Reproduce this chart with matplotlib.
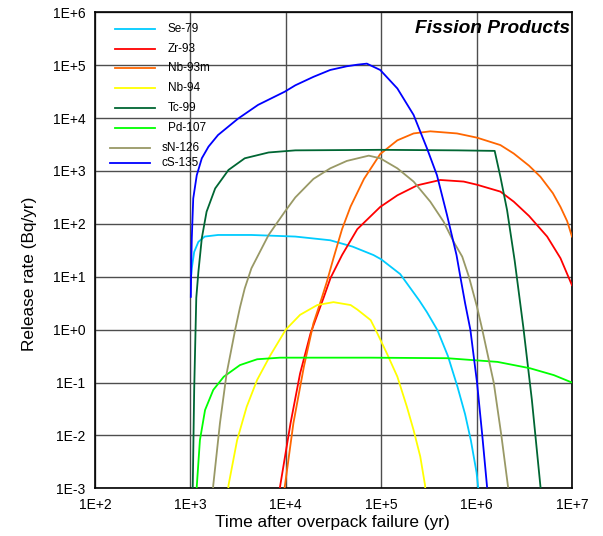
import numpy as np
import matplotlib
matplotlib.use("Agg")
import matplotlib.pyplot as plt
from matplotlib.ticker import FixedLocator, FuncFormatter, NullLocator

# values, as log10(time in yr) and log10(release rate in Bq/yr)
se79_logt = [3.01, 3.015, 3.04, 3.084, 3.15, 3.29, 3.64, 4.10, 4.466, 4.70, 4.92, 5.0, 5.20,
             5.30, 5.40, 5.48, 5.59, 5.70, 5.80, 5.88, 5.94, 6.0, 6.03]
se79_logr = [1.05, 1.16, 1.47, 1.66, 1.76, 1.79, 1.79, 1.76, 1.69, 1.57, 1.41, 1.33, 1.05,
             0.80, 0.55, 0.33, -0.01, -0.5, -1.08, -1.6, -2.09, -2.7, -3.2]

zr93_logt = [3.93, 3.94, 4.05, 4.15, 4.26, 4.40, 4.47, 4.59, 4.75, 4.99, 5.17, 5.38, 5.62,
             5.865, 6.005, 6.25, 6.39, 6.55, 6.74, 6.88, 7.0]
zr93_logr = [-3.2, -2.97, -1.77, -0.83, -0.07, 0.62, 0.98, 1.41, 1.90, 2.32, 2.54, 2.73, 2.83,
             2.80, 2.74, 2.61, 2.42, 2.15, 1.76, 1.35, 0.84]

nb93m_logt = [3.975, 3.985, 4.08, 4.19, 4.29, 4.36, 4.43, 4.50, 4.59, 4.68, 4.82, 4.99, 5.17,
              5.34, 5.515, 5.795, 6.005, 6.25, 6.39, 6.55, 6.67, 6.80, 6.88, 6.95, 7.0]
nb93m_logr = [-3.2, -3.03, -1.77, -0.70, 0.12, 0.50, 0.9, 1.35, 1.90, 2.33, 2.85, 3.32, 3.58,
              3.71, 3.75, 3.71, 3.63, 3.49, 3.33, 3.10, 2.89, 2.58, 2.32, 2.05, 1.76]

nb94_logt = [3.39, 3.40, 3.49, 3.59, 3.70, 3.84, 4.00, 4.15, 4.33, 4.50, 4.68, 4.75, 4.89,
             4.96, 5.06, 5.17, 5.27, 5.34, 5.41, 5.46, 5.47]
nb94_logr = [-3.2, -2.94, -2.09, -1.46, -0.95, -0.48, 0.0, 0.28, 0.465, 0.52, 0.465, 0.38, 0.18,
             -0.07, -0.45, -0.89, -1.46, -1.90, -2.40, -2.94, -3.2]

tc99_logt = [3.01, 3.025, 3.04, 3.062, 3.084, 3.12, 3.17, 3.26, 3.40, 3.57, 3.82, 4.10, 5.0,
             5.8, 6.19, 6.25, 6.32, 6.40, 6.49, 6.58, 6.67, 6.69]
tc99_logr = [-3.2, -2.97, -1.14, 0.6, 1.09, 1.73, 2.23, 2.67, 3.02, 3.24, 3.35, 3.39, 3.40,
             3.39, 3.38, 2.89, 2.26, 1.3, 0.05, -1.33, -2.97, -3.2]

pd107_logt = [3.06, 3.067, 3.10, 3.154, 3.24, 3.35, 3.52, 3.70, 3.94, 4.89, 5.69, 6.22, 6.56,
              6.81, 7.0]
pd107_logr = [-3.2, -2.97, -2.09, -1.52, -1.14, -0.89, -0.67, -0.56, -0.53, -0.53, -0.54, -0.61,
              -0.73, -0.86, -1.0]

sn126_logt = [3.23, 3.24, 3.31, 3.38, 3.47, 3.52, 3.57, 3.64, 3.82, 3.99, 4.10, 4.29, 4.466,
              4.64, 4.87, 4.99, 5.17, 5.34, 5.515, 5.655, 5.76, 5.85, 5.92, 6.005, 6.06, 6.18,
              6.26, 6.33]
sn126_logr = [-3.2, -2.94, -1.77, -0.83, 0.0, 0.42, 0.78, 1.16, 1.79, 2.23, 2.50, 2.85, 3.05,
              3.19, 3.29, 3.24, 3.05, 2.80, 2.42, 2.04, 1.66, 1.38, 1.0, 0.43, 0.0, -1.0,
              -2.0, -2.97]

cs135_logt = [3.005, 3.01, 3.015, 3.03, 3.067, 3.12, 3.19, 3.29, 3.50, 3.71, 3.99, 4.10, 4.29,
              4.466, 4.64, 4.75, 4.85, 4.99, 5.17, 5.34, 5.48, 5.585, 5.69, 5.79, 5.83, 5.88,
              5.935, 6.005, 6.06, 6.11]
cs135_logr = [0.62, 1.3, 1.73, 2.48, 2.92, 3.24, 3.46, 3.68, 3.99, 4.25, 4.50, 4.62, 4.78,
              4.91, 4.98, 5.01, 5.03, 4.91, 4.56, 4.06, 3.43, 2.92, 2.17, 1.41, 1.0, 0.50,
              0.0, -1.0, -2.0, -2.97]

labels = ["Se-79", "Zr-93", "Nb-93m", "Nb-94", "Tc-99", "Pd-107", "sN-126", "cS-135"]
colors = ["#00CCFF", "#FF0000", "#FF6600", "#FFFF00", "#006633", "#00FF00", "#999966", "#0000FF"]
series = [(se79_logt, se79_logr), (zr93_logt, zr93_logr), (nb93m_logt, nb93m_logr),
          (nb94_logt, nb94_logr), (tc99_logt, tc99_logr), (pd107_logt, pd107_logr),
          (sn126_logt, sn126_logr), (cs135_logt, cs135_logr)]

x_decades = [2, 3, 4, 5, 6, 7]
y_decades = [-3, -2, -1, 0, 1, 2, 3, 4, 5, 6]


def main():
    plt.rcParams['font.family'] = ['Liberation Sans', 'DejaVu Sans']

    fig = plt.figure(figsize=(6.03, 5.36), dpi=100)
    ax = fig.add_axes([0.1575, 0.089, 0.791, 0.888])

    for (lt, lr), c in zip(series, colors):
        ax.plot(10 ** np.array(lt), 10 ** np.array(lr), color=c, lw=1.3, zorder=3,
                solid_joinstyle='round')

    ax.set_xscale('log')
    ax.set_yscale('log')
    ax.set_xlim(1e2, 1e7)
    ax.set_ylim(1e-3, 1e6)

    fmt = FuncFormatter(lambda v, p: "1E%+d" % int(round(np.log10(v))))
    ax.xaxis.set_major_locator(FixedLocator([10.0 ** e for e in x_decades]))
    ax.yaxis.set_major_locator(FixedLocator([10.0 ** e for e in y_decades]))
    ax.xaxis.set_minor_locator(NullLocator())
    ax.yaxis.set_minor_locator(NullLocator())
    ax.xaxis.set_major_formatter(fmt)
    ax.yaxis.set_major_formatter(fmt)
    ax.tick_params(axis='both', length=0, labelsize=10, colors='black')
    ax.tick_params(axis='x', pad=7)
    ax.tick_params(axis='y', pad=7)

    ax.grid(True, which='major', color='0.3', lw=1.0, zorder=1)
    for s in ax.spines.values():
        s.set_linewidth(1.2)
        s.set_color('black')

    ax.set_xlabel("Time after overpack failure (yr)", fontsize=12.4, va='center')
    ax.set_ylabel("Release rate (Bq/yr)", fontsize=12.4, va='center')
    ax.xaxis.set_label_coords(0.498, -0.071)
    ax.yaxis.set_label_coords(-0.138, 0.451)

    ax.text(0.996, 0.965, "Fission Products", transform=ax.transAxes, ha='right', va='center',
            fontsize=13.8, fontweight='bold', fontstyle='italic')

    # legend drawn by hand: the last two entries sit a little further left
    leg_y = [0.965, 0.923, 0.882, 0.840, 0.800, 0.758, 0.716, 0.684]
    for i, (lab, c) in enumerate(zip(labels, colors)):
        if i < 6:
            x0, x1, xt = 0.042, 0.126, 0.153
        else:
            x0, x1, xt = 0.031, 0.115, 0.140
        ax.plot([x0, x1], [leg_y[i], leg_y[i]], transform=ax.transAxes, color=c, lw=1.3,
                zorder=4)
        ax.text(xt, leg_y[i], lab, transform=ax.transAxes, ha='left', va='center', fontsize=8.5,
                zorder=4)

    fig.savefig("out.png", dpi=100)


if __name__ == "__main__":
    main()
